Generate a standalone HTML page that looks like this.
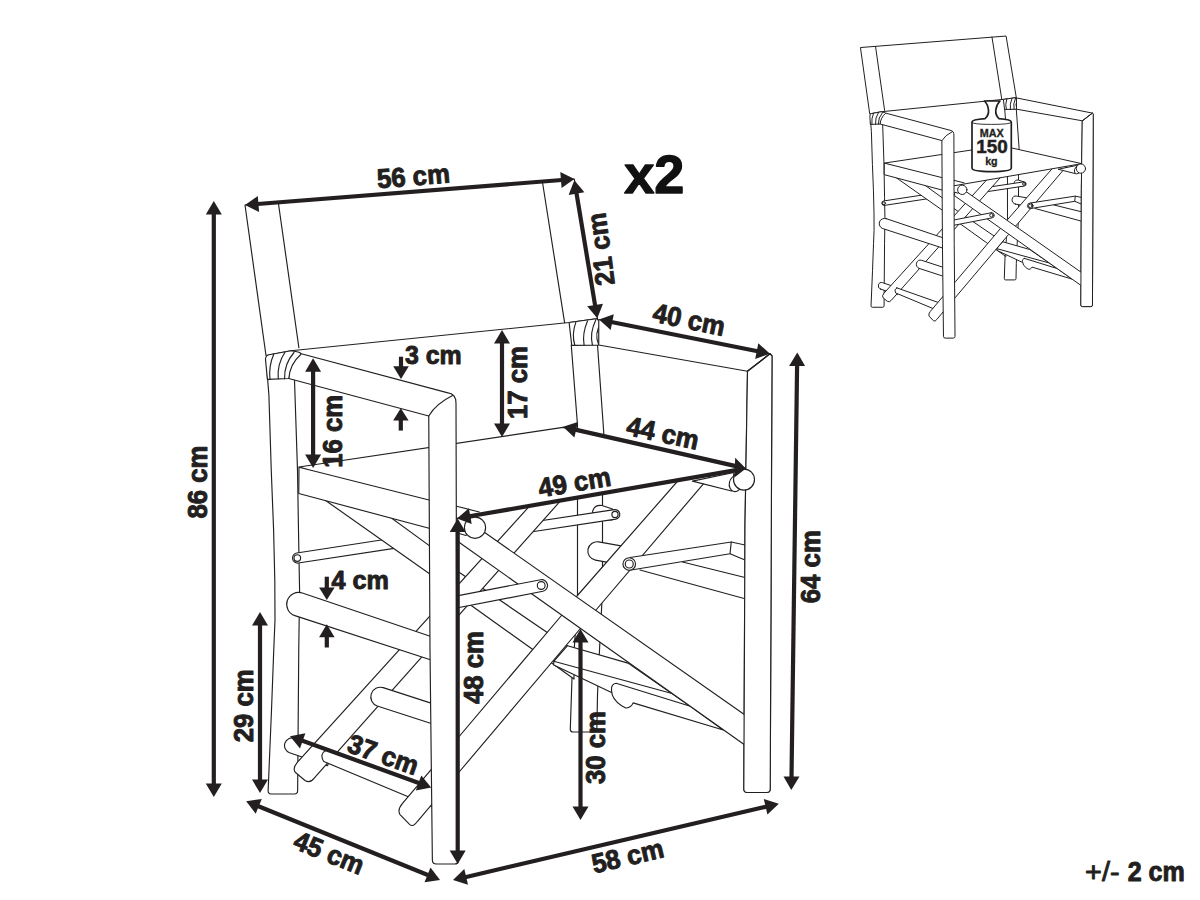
<!DOCTYPE html>
<html><head><meta charset="utf-8"><title>Chair dimensions</title>
<style>
html,body{margin:0;padding:0;background:#fff;}
body{width:1200px;height:900px;overflow:hidden;font-family:"Liberation Sans",sans-serif;}
svg{display:block;}
text{font-family:"Liberation Sans",sans-serif;font-weight:bold;fill:#231f20;}
.thin{fill:none;stroke:#231f20;stroke-width:1.15;stroke-linecap:round;stroke-linejoin:round;}
.thin2{fill:none;stroke:#231f20;stroke-width:1.0;stroke-linecap:round;stroke-linejoin:round;}
.thin2 path,.thin2 circle,.thin2 ellipse{vector-effect:non-scaling-stroke;}
.dim{fill:#231f20;stroke:#231f20;}
.dim polygon{stroke:none;}
.dim text{stroke:#231f20;stroke-width:0.95;stroke-linejoin:round;}
</style></head><body>
<svg width="1200" height="900" viewBox="0 0 1200 900">
<rect width="1200" height="900" fill="#fff"/>
<g class="thin" id="chair">
<path d="M245.00,205.00 L574.30,179.00 L597.50,318.60 L569.10,322.50 L291.00,350.75 L266.00,355.50 Z" fill="#fff" />
<path d="M278.30,202.50 L298.90,347.75" fill="none" />
<path d="M542.30,181.00 L564.60,322.60" fill="none" />
<path d="M571.25,345.00 L577.50,425.00 L577.50,595.00 L574.80,641.00 L572.00,677.75 L570.30,729.00 Q570.20,732.00 573.20,732.00 L593.80,732.00 Q596.80,732.00 596.86,729.00 L597.50,695.00 L599.50,650.00 L601.50,610.00 L602.50,590.00 L602.50,497.00 L603.75,432.50 L597.50,345.00 Z" fill="#fff"/>
<path d="M569.1,322.5 L596.5,318.75 L601.75,322.9 Q593.5,333 598.75,345 L571.75,345.4 Z" fill="#fff"/>
<path d="M575.9,322.1 Q571.5,334 574.75,345" fill="none"/>
<path d="M587.5,321 Q582,334 584.1,345.2" fill="none"/>
<path d="M595.75,319.9 Q589.5,333 592.4,345" fill="none"/>
<path d="M598.75,319.50 L770.00,353.75 L772.00,356.00 L770.21,789.00 Q770.20,792.50 766.70,792.50 L747.30,792.50 Q743.80,792.50 743.82,789.00 L745.00,525.00 L747.50,371.25 L598.75,345.00 Z" fill="#fff"/>
<path d="M747.50,371.25 L770.00,353.75" fill="none" />
<path d="M267.20,374.00 L268.90,395.00 L271.25,470.00 L273.60,530.00 L274.80,580.00 L275.00,620.00 L273.75,650.00 L271.50,710.00 L268.13,790.80 Q268.00,794.00 271.20,794.00 L294.40,794.00 Q297.60,794.00 297.63,790.80 L298.75,650.00 L299.60,591.00 L298.75,545.00 L297.50,470.00 L294.30,374.00 Z" fill="#fff"/>
<path d="M298.27,563.04 L400.77,547.34 L399.23,537.26 L296.73,552.96 A5.1,5.1 0 0 0 298.27,563.04 Z" fill="#fff"/>
<circle cx="297.3" cy="558" r="3.3" fill="none"/>
<path d="M592.5,512 Q594,504.5 602,505.5 L612.5,509 L612,520 L593,520 Z" fill="#fff"/>
<path d="M614.28,509.65 L524.28,523.25 L525.72,532.75 L615.72,519.15 A4.8,4.8 0 0 0 614.28,509.65 Z" fill="#fff"/>
<circle cx="615" cy="514.4" r="3.1" fill="none"/>
<path d="M595.38,560.06 L623.38,565.06 L626.62,546.94 L598.62,541.94 A9.2,9.2 0 0 0 595.38,560.06 Z" fill="#fff"/>
<path d="M340.00,480.54 L443.00,555.64 L443.00,561.25 L574.00,650.80 L574.00,679.09 L443.00,585.24 L443.00,583.27 L305.00,485.97 Z" fill="#fff" />
<path d="M289.54,752.69 L327.54,765.69 L332.46,751.31 L294.46,738.31 A7.6,7.6 0 0 0 289.54,752.69 Z" fill="#fff"/>
<path d="M560.00,472.44 L297.50,762.11 Q292,768.5 295.5,772.5 L305,780.5 Q310,783.5 314.00,778.31 L590.00,467.61 Z" fill="#fff"/>
<path d="M731.25,542.00 L745.00,545.00" fill="none" />
<path d="M730.00,553.75 L745.00,560.00" fill="none" />
<path d="M640.00,570.00 L745.00,598.75 L745.00,577.50 L682.50,562.00" fill="#fff" />
<path d="M567.50,645.70 L628.00,663.10 L690.30,706.20 L640.00,697.00 L611.50,692.40 L553.75,665.00 L553.75,661.25 Z" fill="#fff" />
<path d="M553.75,661.25 L671.10,693.30" fill="none" />
<path d="M616.1,683.25 L690.3,706.2 L723.3,730 L633.1,702.9 Q632,705.5 630.75,706.2 Q628.5,708.3 625.8,708 L621.6,705.8 Q611.8,699.5 611.5,690.6 Q611.3,686.6 612.4,685.4 Q613.8,683.3 616.1,683.25 Z" fill="#fff"/>
<path d="M377.24,705.93 L442.04,726.93 L447.96,708.67 L383.16,687.67 A9.6,9.6 0 0 0 377.24,705.93 Z" fill="#fff"/>
<path d="M326.5,750 L440,790 L440,810 L323.75,761.5 Q319,754 326.5,750 Z" fill="#fff"/>
<path d="M686.50,471.00 L577.00,596.00 L561.50,615.50 L460.00,735.50 L402.50,803.48 Q397.3,809.6 399.8,814.3 L409.8,824.6 Q413.3,827.5 417.50,821.29 L460.00,771.00 L580.00,629.00 L596.00,610.00 L713.00,472.60 Z" fill="#fff"/>
<path d="M630.00,557.50 L731.25,542.00 L730.00,553.75 L631.25,570.00 Z" fill="#fff" />
<circle cx="629.25" cy="564" r="6.3" fill="#fff"/>
<circle cx="629.25" cy="564" r="4" fill="none"/>
<path d="M458.30,533.30 L466.00,535.50 L474.00,525.00 L760.00,725.50 L760.00,755.76 L458.30,541.70 Z" fill="#fff" />
<path d="M540.68,579.71 L438.88,599.41 L441.12,610.99 L542.92,591.29 A5.9,5.9 0 0 0 540.68,579.71 Z" fill="#fff"/>
<circle cx="541.2" cy="585.5" r="3.9" fill="none"/>
<path d="M299.00,467.00 L563.00,427.40 L745.90,468.40 L457.00,518.40 Z" fill="#fff" />
<path d="M747.50,371.25 L770.00,353.75 L772.00,356.00 L770.21,789.00 Q770.20,792.50 766.70,792.50 L747.30,792.50 Q743.80,792.50 743.82,789.00 L745.00,525.00 Z" fill="#fff"/>
<path d="M747.50,371.25 L770.00,353.75" fill="none" />
<path d="M731.5,491 L692.4,481.1 L734,472.5 Z" fill="#fff"/>
<ellipse cx="735.6" cy="483.6" rx="6.3" ry="8.1" fill="#fff" transform="rotate(12 735.6 483.6)"/>
<circle cx="744" cy="479.6" r="10.5" fill="#fff"/>
<path d="M299.00,467.30 L430.00,500.30 L430.00,528.50 L298.75,493.50 Z" fill="#fff" />
<path d="M302.35,593 L443.5,640.7 L436.5,661.7 L294.85,615.6 A11.9,11.9 0 0 1 302.35,593 Z" fill="#fff"/>
<path d="M291.00,351.00 L447.00,392.60 L451.30,393.80 L454.20,396.20 L455.70,399.60 L456.00,403.50 L456.70,650.00 L458.56,860.00 Q458.60,864.00 454.60,864.00 L436.40,864.00 Q432.40,864.00 432.36,860.00 L430.00,650.00 L428.75,416.00 L288.75,378.50 Z" fill="#fff"/>
<path d="M428.75,416 Q436,403.8 452.6,395.6" fill="none"/>
<path d="M265.5,359.5 Q265.5,355.5 269,354.8 L291,350.75 Q302,352 300.75,354.5 Q290,364 288.75,378.5 L267.4,379.4 Z" fill="#fff"/>
<path d="M273.75,354.3 Q268.5,366 270,379.25" fill="none"/>
<path d="M285,352.3 Q277,364 278.25,378.9" fill="none"/>
<path d="M294,352.5 Q284,364 284.6,378.7" fill="none"/>
<path d="M456.70,506.30 L479.30,512.00" fill="none" />
<circle cx="475" cy="527.7" r="10.6" fill="#fff"/>
</g>
<g class="small" transform="translate(752.8,-42.9) scale(0.441)"><g class="thin2" >
<path d="M245.00,205.00 L574.30,179.00 L597.50,318.60 L569.10,322.50 L291.00,350.75 L266.00,355.50 Z" fill="#fff" />
<path d="M278.30,202.50 L298.90,347.75" fill="none" />
<path d="M542.30,181.00 L564.60,322.60" fill="none" />
<path d="M571.25,345.00 L577.50,425.00 L577.50,595.00 L574.80,641.00 L572.00,677.75 L570.30,729.00 Q570.20,732.00 573.20,732.00 L593.80,732.00 Q596.80,732.00 596.86,729.00 L597.50,695.00 L599.50,650.00 L601.50,610.00 L602.50,590.00 L602.50,497.00 L603.75,432.50 L597.50,345.00 Z" fill="#fff"/>
<path d="M569.1,322.5 L596.5,318.75 L601.75,322.9 Q593.5,333 598.75,345 L571.75,345.4 Z" fill="#fff"/>
<path d="M575.9,322.1 Q571.5,334 574.75,345" fill="none"/>
<path d="M587.5,321 Q582,334 584.1,345.2" fill="none"/>
<path d="M595.75,319.9 Q589.5,333 592.4,345" fill="none"/>
<path d="M598.75,319.50 L770.00,353.75 L772.00,356.00 L770.21,789.00 Q770.20,792.50 766.70,792.50 L747.30,792.50 Q743.80,792.50 743.82,789.00 L745.00,525.00 L747.50,371.25 L598.75,345.00 Z" fill="#fff"/>
<path d="M747.50,371.25 L770.00,353.75" fill="none" />
<path d="M267.20,374.00 L268.90,395.00 L271.25,470.00 L273.60,530.00 L274.80,580.00 L275.00,620.00 L273.75,650.00 L271.50,710.00 L268.13,790.80 Q268.00,794.00 271.20,794.00 L294.40,794.00 Q297.60,794.00 297.63,790.80 L298.75,650.00 L299.60,591.00 L298.75,545.00 L297.50,470.00 L294.30,374.00 Z" fill="#fff"/>
<path d="M298.27,563.04 L400.77,547.34 L399.23,537.26 L296.73,552.96 A5.1,5.1 0 0 0 298.27,563.04 Z" fill="#fff"/>
<circle cx="297.3" cy="558" r="3.3" fill="none"/>
<path d="M592.5,512 Q594,504.5 602,505.5 L612.5,509 L612,520 L593,520 Z" fill="#fff"/>
<path d="M614.28,509.65 L524.28,523.25 L525.72,532.75 L615.72,519.15 A4.8,4.8 0 0 0 614.28,509.65 Z" fill="#fff"/>
<circle cx="615" cy="514.4" r="3.1" fill="none"/>
<path d="M595.38,560.06 L623.38,565.06 L626.62,546.94 L598.62,541.94 A9.2,9.2 0 0 0 595.38,560.06 Z" fill="#fff"/>
<path d="M340.00,480.54 L443.00,555.64 L443.00,561.25 L574.00,650.80 L574.00,679.09 L443.00,585.24 L443.00,583.27 L305.00,485.97 Z" fill="#fff" />
<path d="M289.54,752.69 L327.54,765.69 L332.46,751.31 L294.46,738.31 A7.6,7.6 0 0 0 289.54,752.69 Z" fill="#fff"/>
<path d="M560.00,472.44 L297.50,762.11 Q292,768.5 295.5,772.5 L305,780.5 Q310,783.5 314.00,778.31 L590.00,467.61 Z" fill="#fff"/>
<path d="M731.25,542.00 L745.00,545.00" fill="none" />
<path d="M730.00,553.75 L745.00,560.00" fill="none" />
<path d="M640.00,570.00 L745.00,598.75 L745.00,577.50 L682.50,562.00" fill="#fff" />
<path d="M567.50,645.70 L628.00,663.10 L690.30,706.20 L640.00,697.00 L611.50,692.40 L553.75,665.00 L553.75,661.25 Z" fill="#fff" />
<path d="M553.75,661.25 L671.10,693.30" fill="none" />
<path d="M616.1,683.25 L690.3,706.2 L723.3,730 L633.1,702.9 Q632,705.5 630.75,706.2 Q628.5,708.3 625.8,708 L621.6,705.8 Q611.8,699.5 611.5,690.6 Q611.3,686.6 612.4,685.4 Q613.8,683.3 616.1,683.25 Z" fill="#fff"/>
<path d="M377.24,705.93 L442.04,726.93 L447.96,708.67 L383.16,687.67 A9.6,9.6 0 0 0 377.24,705.93 Z" fill="#fff"/>
<path d="M326.5,750 L440,790 L440,810 L323.75,761.5 Q319,754 326.5,750 Z" fill="#fff"/>
<path d="M686.50,471.00 L577.00,596.00 L561.50,615.50 L460.00,735.50 L402.50,803.48 Q397.3,809.6 399.8,814.3 L409.8,824.6 Q413.3,827.5 417.50,821.29 L460.00,771.00 L580.00,629.00 L596.00,610.00 L713.00,472.60 Z" fill="#fff"/>
<path d="M630.00,557.50 L731.25,542.00 L730.00,553.75 L631.25,570.00 Z" fill="#fff" />
<circle cx="629.25" cy="564" r="6.3" fill="#fff"/>
<circle cx="629.25" cy="564" r="4" fill="none"/>
<path d="M458.30,533.30 L466.00,535.50 L474.00,525.00 L760.00,725.50 L760.00,755.76 L458.30,541.70 Z" fill="#fff" />
<path d="M540.68,579.71 L438.88,599.41 L441.12,610.99 L542.92,591.29 A5.9,5.9 0 0 0 540.68,579.71 Z" fill="#fff"/>
<circle cx="541.2" cy="585.5" r="3.9" fill="none"/>
<path d="M299.00,467.00 L563.00,427.40 L745.90,468.40 L457.00,518.40 Z" fill="#fff" />
<path d="M747.50,371.25 L770.00,353.75 L772.00,356.00 L770.21,789.00 Q770.20,792.50 766.70,792.50 L747.30,792.50 Q743.80,792.50 743.82,789.00 L745.00,525.00 Z" fill="#fff"/>
<path d="M747.50,371.25 L770.00,353.75" fill="none" />
<path d="M731.5,491 L692.4,481.1 L734,472.5 Z" fill="#fff"/>
<ellipse cx="735.6" cy="483.6" rx="6.3" ry="8.1" fill="#fff" transform="rotate(12 735.6 483.6)"/>
<circle cx="744" cy="479.6" r="10.5" fill="#fff"/>
<path d="M299.00,467.30 L430.00,500.30 L430.00,528.50 L298.75,493.50 Z" fill="#fff" />
<path d="M302.35,593 L443.5,640.7 L436.5,661.7 L294.85,615.6 A11.9,11.9 0 0 1 302.35,593 Z" fill="#fff"/>
<path d="M291.00,351.00 L447.00,392.60 L451.30,393.80 L454.20,396.20 L455.70,399.60 L456.00,403.50 L456.70,650.00 L458.56,860.00 Q458.60,864.00 454.60,864.00 L436.40,864.00 Q432.40,864.00 432.36,860.00 L430.00,650.00 L428.75,416.00 L288.75,378.50 Z" fill="#fff"/>
<path d="M428.75,416 Q436,403.8 452.6,395.6" fill="none"/>
<path d="M265.5,359.5 Q265.5,355.5 269,354.8 L291,350.75 Q302,352 300.75,354.5 Q290,364 288.75,378.5 L267.4,379.4 Z" fill="#fff"/>
<path d="M273.75,354.3 Q268.5,366 270,379.25" fill="none"/>
<path d="M285,352.3 Q277,364 278.25,378.9" fill="none"/>
<path d="M294,352.5 Q284,364 284.6,378.7" fill="none"/>
<path d="M456.70,506.30 L479.30,512.00" fill="none" />
<circle cx="475" cy="527.7" r="10.6" fill="#fff"/>
</g></g>
<g id="weight">
<path d="M972,122 L972,168 Q972,171.6 991.6,171.6 Q1011.3,171.6 1011.3,168 L1011.3,122 Q1011.3,119.6 999,118.6 Q995.3,115.5 995.8,110 Q996.5,104.5 1000,101 L984.4,101 Q988,104.5 988.5,110 Q989,115.5 985,118.6 Q972,119.6 972,122 Z" fill="#fff" stroke="#231f20" stroke-width="1.7" stroke-linejoin="round"/>
<path d="M972,122 Q972,124.4 991.6,124.4 Q1011.3,124.4 1011.3,122" fill="none" stroke="#231f20" stroke-width="0.9"/>
<text x="991.8" y="136.7" font-size="10" text-anchor="middle" textLength="24" lengthAdjust="spacingAndGlyphs" stroke="#231f20" stroke-width="0.3">MAX</text>
<text x="992" y="153.3" font-size="17.8" text-anchor="middle" textLength="31.5" lengthAdjust="spacingAndGlyphs" stroke="#231f20" stroke-width="0.5">150</text>
<text x="991.4" y="165.2" font-size="10.7" text-anchor="middle" stroke="#231f20" stroke-width="0.3">kg</text>
</g>
<g class="dim">
<polygon points="213.8,201.0 205.8,214.5 221.8,214.5"/><polygon points="213.8,797.0 205.8,783.5 221.8,783.5"/><line x1="213.8" y1="213.5" x2="213.8" y2="784.5" stroke-width="4.2"/>
<text transform="translate(197.7,482) rotate(-90)" font-size="27" text-anchor="middle" dy="0.358em" textLength="73" lengthAdjust="spacingAndGlyphs" >86 cm</text>
<polygon points="245.0,205.0 259.1,211.9 257.8,196.0"/><polygon points="574.4,179.0 561.6,188.0 560.3,172.1"/><line x1="257.5" y1="204.0" x2="561.9" y2="180.0" stroke-width="4.2"/>
<text transform="translate(413.3,175.8) rotate(-4.6)" font-size="27" text-anchor="middle" dy="0.358em" textLength="73" lengthAdjust="spacingAndGlyphs" >56 cm</text>
<polygon points="574.3,180.3 568.6,194.9 584.4,192.3"/><polygon points="597.3,318.3 587.2,306.3 603.0,303.7"/><line x1="576.4" y1="192.6" x2="595.2" y2="306.0" stroke-width="4.2"/>
<text transform="translate(600.5,249.3) rotate(-97.5)" font-size="27" text-anchor="middle" dy="0.358em" textLength="73" lengthAdjust="spacingAndGlyphs" >21 cm</text>
<polygon points="599.0,319.5 610.7,330.0 613.8,314.3"/><polygon points="770.0,353.8 755.2,358.9 758.3,343.3"/><line x1="611.3" y1="322.0" x2="757.7" y2="351.3" stroke-width="4.2"/>
<text transform="translate(689.2,319.2) rotate(11.6)" font-size="27" text-anchor="middle" dy="0.358em" textLength="73" lengthAdjust="spacingAndGlyphs" >40 cm</text>
<polygon points="563.0,426.8 574.4,437.6 577.9,422.0"/><line x1="575.2" y1="429.6" x2="737.0" y2="466.4" stroke-width="4.2"/>
<polygon points="745.9,468.4 735.2,457.7 734.4,477.5"/>
<text transform="translate(663,432.6) rotate(12)" font-size="27" text-anchor="middle" dy="0.358em" textLength="73" lengthAdjust="spacingAndGlyphs" >44 cm</text>
<polygon points="457.0,518.4 471.7,524.0 468.9,508.2"/><line x1="469.3" y1="516.3" x2="736.0" y2="470.1" stroke-width="4.2"/>
<text transform="translate(574.4,481.9) rotate(-9.6)" font-size="27" text-anchor="middle" dy="0.358em" textLength="73" lengthAdjust="spacingAndGlyphs" >49 cm</text>
<polygon points="797.3,352.5 789.1,365.9 805.1,366.1"/><polygon points="791.3,790.0 783.5,776.4 799.5,776.6"/><line x1="797.1" y1="365.0" x2="791.5" y2="777.5" stroke-width="4.2"/>
<text transform="translate(810,566.7) rotate(-90)" font-size="27" text-anchor="middle" dy="0.358em" textLength="73" lengthAdjust="spacingAndGlyphs" >64 cm</text>
<polygon points="457.7,518.5 449.7,532.0 465.7,532.0"/><polygon points="457.7,864.0 449.7,850.5 465.7,850.5"/><line x1="457.7" y1="531.0" x2="457.7" y2="851.5" stroke-width="4.2"/>
<text transform="translate(473.3,667.5) rotate(-90)" font-size="27" text-anchor="middle" dy="0.358em" textLength="73" lengthAdjust="spacingAndGlyphs" >48 cm</text>
<polygon points="580.5,629.0 572.5,642.5 588.5,642.5"/><polygon points="580.5,820.0 572.5,806.5 588.5,806.5"/><line x1="580.5" y1="641.5" x2="580.5" y2="807.5" stroke-width="4.2"/>
<text transform="translate(595.8,747.5) rotate(-90)" font-size="27" text-anchor="middle" dy="0.358em" textLength="73" lengthAdjust="spacingAndGlyphs" >30 cm</text>
<polygon points="260.0,612.0 252.0,625.5 268.0,625.5"/><polygon points="260.0,793.0 252.0,779.5 268.0,779.5"/><line x1="260.0" y1="624.5" x2="260.0" y2="780.5" stroke-width="4.2"/>
<text transform="translate(243.3,705.8) rotate(-90)" font-size="27" text-anchor="middle" dy="0.358em" textLength="73" lengthAdjust="spacingAndGlyphs" >29 cm</text>
<polygon points="313.1,358.2 305.1,371.8 321.1,371.8"/><polygon points="313.1,468.0 305.1,454.5 321.1,454.5"/><line x1="313.1" y1="370.8" x2="313.1" y2="455.5" stroke-width="4.2"/>
<text transform="translate(331.9,431.25) rotate(-90)" font-size="27" text-anchor="middle" dy="0.358em" textLength="73" lengthAdjust="spacingAndGlyphs" >16 cm</text>
<polygon points="502.0,330.0 494.0,343.5 510.0,343.5"/><polygon points="502.0,437.0 494.0,423.5 510.0,423.5"/><line x1="502.0" y1="342.5" x2="502.0" y2="424.5" stroke-width="4.2"/>
<text transform="translate(517.5,382.5) rotate(-90)" font-size="27" text-anchor="middle" dy="0.358em" textLength="73" lengthAdjust="spacingAndGlyphs" >17 cm</text>
<polygon points="401.0,379.0 393.2,366.2 408.8,366.2"/><line x1="401.0" y1="356.7" x2="401.0" y2="367.2" stroke-width="4.2"/>
<polygon points="400.8,408.3 408.6,420.6 393.1,420.6"/><line x1="400.8" y1="430.6" x2="400.8" y2="419.6" stroke-width="4.2"/>
<text transform="translate(433.3,354.2) rotate(0)" font-size="26" text-anchor="middle" dy="0.358em" textLength="56.7" lengthAdjust="spacingAndGlyphs" >3 cm</text>
<polygon points="326.8,600.0 319.1,587.5 334.6,587.5"/><line x1="326.8" y1="576.7" x2="326.8" y2="588.5" stroke-width="4.2"/>
<polygon points="326.8,624.3 334.6,637.3 319.1,637.3"/><line x1="326.8" y1="647.5" x2="326.8" y2="636.3" stroke-width="4.2"/>
<text transform="translate(360.3,579.3) rotate(0)" font-size="26" text-anchor="middle" dy="0.358em" textLength="57.5" lengthAdjust="spacingAndGlyphs" >4 cm</text>
<polygon points="290.0,736.2 300.0,748.4 305.4,733.3"/><polygon points="431.2,787.5 415.8,790.4 421.3,775.4"/><line x1="301.8" y1="740.5" x2="419.5" y2="783.2" stroke-width="4.2"/>
<text transform="translate(383.3,754.2) rotate(19.5)" font-size="27" text-anchor="middle" dy="0.358em" textLength="73" lengthAdjust="spacingAndGlyphs" >37 cm</text>
<polygon points="246.2,801.2 255.7,813.7 261.8,798.9"/><polygon points="440.0,880.0 424.5,882.3 430.5,867.5"/><line x1="257.8" y1="806.0" x2="428.4" y2="875.3" stroke-width="4.2"/>
<text transform="translate(329.2,852.5) rotate(22)" font-size="27" text-anchor="middle" dy="0.358em" textLength="73" lengthAdjust="spacingAndGlyphs" >45 cm</text>
<polygon points="453.0,880.0 468.0,884.7 464.3,869.1"/><polygon points="778.8,803.8 767.4,814.6 763.8,799.0"/><line x1="465.2" y1="877.2" x2="766.6" y2="806.6" stroke-width="4.2"/>
<text transform="translate(627.5,855.8) rotate(-13.2)" font-size="27" text-anchor="middle" dy="0.358em" textLength="73" lengthAdjust="spacingAndGlyphs" >58 cm</text>
<text x="654.3" y="193" font-size="54" text-anchor="middle" style="fill:#111;stroke:#111;stroke-width:1.3">x2</text>
<text x="1085.1" y="880.9" font-size="27" textLength="34.4" lengthAdjust="spacingAndGlyphs" style="font-weight:normal;stroke-width:0.9">+/-</text>
<text x="1127.7" y="880.9" font-size="27" textLength="57.1" lengthAdjust="spacingAndGlyphs">2 cm</text>
</g>
</svg>
</body></html>
